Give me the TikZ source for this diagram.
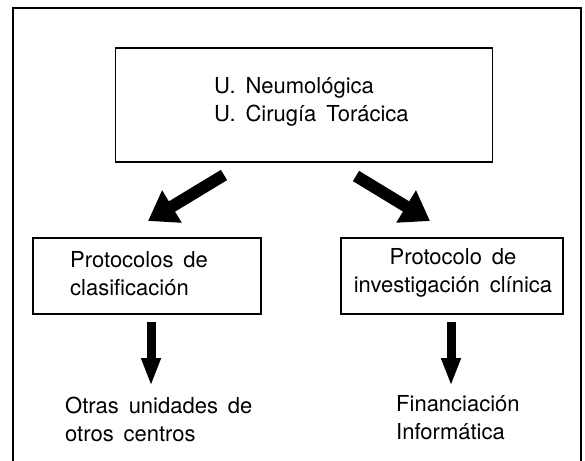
\documentclass[tikz,border=0pt]{standalone}
\usepackage{fontspec}
\setmainfont{TeX Gyre Heros}
\usetikzlibrary{arrows.meta}
\newcommand\diaglblfont{\fontsize{22}{28}\selectfont\spaceskip=0.45em\relax}
\begin{document}
\begin{tikzpicture}[x=1pt,y=-1pt,
  box/.style={draw, line width=1.7pt, inner sep=0pt},
  lbl/.style={font=\diaglblfont, inner sep=0pt},
  bigarrow/.style={line width=12pt, -{Triangle[length=28pt,width=36pt]}},
  downarrow/.style={line width=9pt, -{Triangle[length=28pt,width=18pt]}},
]
\useasboundingbox (0,0) rectangle (585,460);
% outer frame (open at the bottom)
\draw[line width=1.3pt] (13,470) -- (13,8) -- (581,8) -- (581,470);

% boxes
\node[box, minimum width=377pt, minimum height=114pt] (top) at (304,105) {};
\node[box, minimum width=228pt, minimum height=76pt] (left) at (147,276) {};
\node[box, minimum width=222pt, minimum height=76pt] (right) at (452,276) {};

% texts inside the boxes
\node[lbl, align=left, anchor=west] (toptxt) at (214,102)
  {U. Neumológica\\U. Cirugía Torácica};
\node[lbl, align=left, anchor=west] (lefttxt) at (70,274)
  {Protocolos de\\clasificación};
\node[lbl, align=center] (righttxt) at (453,273)
  {Protocolo de\\investigación clínica};

% bottom texts
\node[lbl, align=left, anchor=west] (lt) at (65,419) {Otras unidades de\\otros centros};
\node[lbl, align=left, anchor=west] (rt) at (396,418) {Financiación\\Informática};

% arrow end points
\coordinate (la0) at (224,175); \coordinate (la1) at (148,221);
\coordinate (ra0) at (356,176); \coordinate (ra1) at (430,221);
\coordinate (ld0) at (151,322); \coordinate (ld1) at (151,386);
\coordinate (rd0) at (451,322); \coordinate (rd1) at (451,386);

\draw[bigarrow] (la0) -- (la1);
\draw[bigarrow] (ra0) -- (ra1);
\draw[downarrow] (ld0) -- (ld1);
\draw[downarrow] (rd0) -- (rd1);
\end{tikzpicture}
\end{document}
